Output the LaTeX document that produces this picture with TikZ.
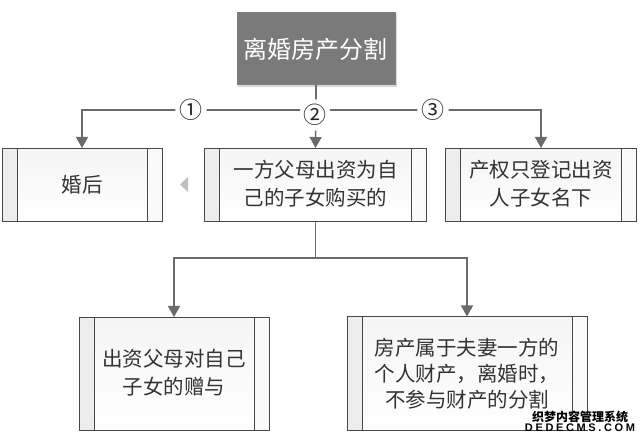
\documentclass[tikz,border=0pt]{standalone}
\usepackage{fontspec}
\setmainfont{Noto Sans CJK SC}
\newfontfamily\wmfont[LetterSpace=24]{Liberation Sans}
\usetikzlibrary{arrows.meta}
\definecolor{linegray}{gray}{0.42}
\definecolor{boxline}{gray}{0.28}
\definecolor{barfill}{gray}{0.93}
\definecolor{txt}{gray}{0.2}
\begin{document}
\begin{tikzpicture}[x=1pt,y=-1pt,
  conn/.style={draw=linegray,line width=1.5pt,-{Triangle[length=11pt,width=12pt]}},
  plain/.style={draw=linegray,line width=1.5pt},
  procbox/.style={draw=boxline,line width=1pt,inner sep=0pt,anchor=north west,align=center,text=txt,
    font=\fontsize{20.5}{#1}\selectfont,
    path picture={
      \shade[top color=black!4,bottom color=white] (path picture bounding box.north west) rectangle (path picture bounding box.south east);
      \fill[barfill] (path picture bounding box.north west) rectangle ([xshift=15pt]path picture bounding box.south west);
      \fill[black!2] ([xshift=-15pt]path picture bounding box.north east) rectangle (path picture bounding box.south east);
      \draw[boxline,line width=1pt] ([xshift=15pt]path picture bounding box.north west) -- ([xshift=15pt]path picture bounding box.south west);
      \draw[boxline,line width=1pt] ([xshift=-15pt]path picture bounding box.north east) -- ([xshift=-15pt]path picture bounding box.south east);
    }},
  num/.style={circle,fill=white,minimum size=18pt,inner sep=0pt,text=black!85,font=\fontsize{23}{23}\selectfont}]
\useasboundingbox (0,0) rectangle (640,443);
\fill[white] (0,0) rectangle (640,443);
% root
\fill[gray!30] (238,14) rectangle (397,87);
\node[draw=gray,line width=.8pt,fill=black!52,minimum width=158pt,minimum height=72pt,inner sep=0pt,anchor=north west,text=white,font=\fontsize{24}{28}\selectfont] (root) at (236.5,12.5) {离婚房产分割};
% boxes
\node[procbox=28,minimum width=160pt,minimum height=73pt] (a) at (1.5,148) {婚后};
\node[procbox=28,minimum width=222pt,minimum height=73pt] (b) at (204,148) {一方父母出资为自\\己的子女购买的\\[-24pt]};
\node[procbox=28,minimum width=191pt,minimum height=73pt] (c) at (445,148) {产权只登记出资\\人子女名下\\[-24pt]};
\node[procbox=28,minimum width=190pt,minimum height=113pt] (d) at (78.5,317) {出资父母对自己\\子女的赠与\\[-24pt]};
\node[procbox=26,minimum width=240pt,minimum height=114pt] (e) at (346.5,316.5) {房产属于夫妻一方的\\个人财产，离婚时，\\不参与财产的分割};
% small triangle
\fill[black!25] (180,184.5) -- (188,177) -- (188,192) -- cycle;
% connectors
\coordinate (j1) at (root.south |- 0,110);
\coordinate (j2) at (b.south |- 0,258);
\draw[plain] (root.south) -- (j1);
\draw[conn] (j1) -| (a.north);
\draw[conn] (j1) -| (c.north);
\draw[conn] (j1) -- (b.north);
\draw[plain] (b.south) -- (j2);
\draw[conn] (j2) -| (d.north);
\draw[conn] (j2) -| (e.north);
\node[num] (n1) at (191,110) {①};
\node[num] (n2) at (315,115) {②};
\node[num] (n3) at (433,110) {③};
% watermark
\fill[white] (530,414) rectangle (630,430);
\node[inner sep=0pt,font=\fontsize{12}{12}\selectfont\bfseries,text=black] (w1) at (580,416.5) {织梦内容管理系统};
\node[inner sep=0pt,font=\wmfont\fontsize{11}{11}\selectfont\bfseries,text=black] (w2) at (580,428) {DEDECMS.COM};
\end{tikzpicture}
\end{document}
